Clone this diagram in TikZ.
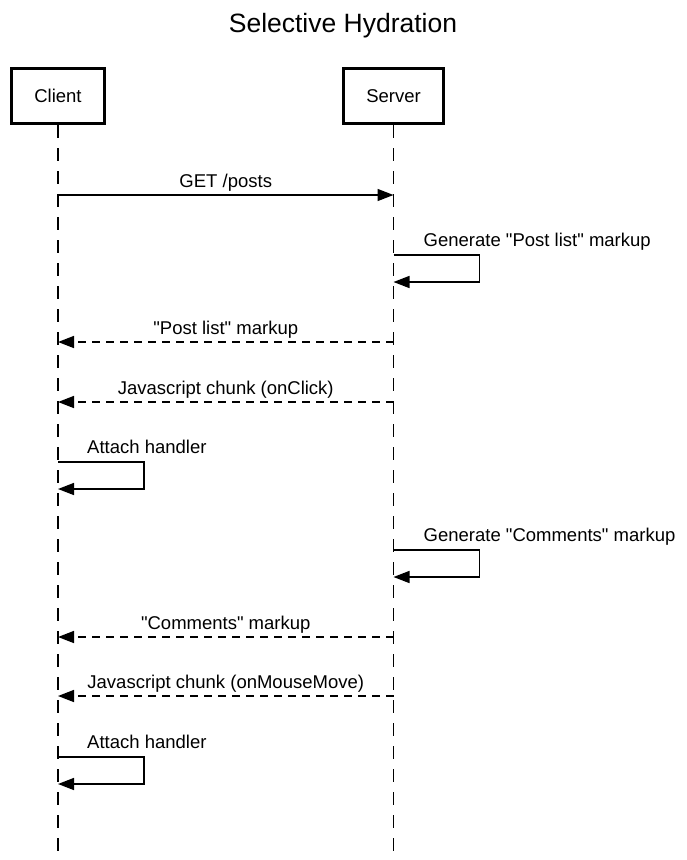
\documentclass[tikz,border=0pt]{standalone}
\usepackage{fontspec}
\setmainfont{Liberation Sans}
\usepackage{tikz}
\usetikzlibrary{arrows.meta,calc}

\begin{document}
\begin{tikzpicture}[x=1pt,y=-1pt,
  actor/.style={draw,line width=3pt,inner xsep=22.5pt,minimum height=55pt,
    font=\fontsize{18.5}{22}\selectfont},
  life/.style={line width=1.5pt,dash pattern=on 13pt off 10pt},
  msg/.style={line width=1.5pt,-{Triangle[length=16pt,width=12pt]}},
  reply/.style={msg,dash pattern=on 8pt off 6pt},
  lbl/.style={font=\fontsize{18.5}{22}\selectfont,anchor=base,inner sep=0pt}]
\useasboundingbox (0,0) rectangle (686,860);

\node[font=\fontsize{26.5}{30}\selectfont,anchor=base] (title) at (343,32) {Selective Hydration};

\node[actor] (client) at (58,96) {Client};
\node[actor] (server) at (393.5,96) {Server};

% lifelines
\coordinate (client end) at (client.south |- 0,860);
\coordinate (server end) at (server.south |- 0,860);
\draw[life] (client.south) -- (client end);
\draw[life] (server.south) -- (server end);

% GET /posts
\coordinate (c1) at (client |- 0,195);
\coordinate (s1) at (server |- 0,195);
\draw[msg] (c1) -- node[lbl,yshift=8pt]{GET /posts} (s1);

% Generate "Post list" markup
\coordinate (s2) at (server |- 0,255);
\coordinate (s2 back) at (server |- 0,282);
\draw[msg] (s2) -- ++(86,0) |- (s2 back);
\node[lbl,anchor=base west] (gen post) at ($(s2)+(30,-9)$) {Generate \textquotedbl Post list\textquotedbl{} markup};

% "Post list" markup
\coordinate (s3) at (server |- 0,342);
\coordinate (c3) at (client |- 0,342);
\draw[reply] (s3) -- node[lbl,yshift=8pt]{\textquotedbl Post list\textquotedbl{} markup} (c3);

% Javascript chunk (onClick)
\coordinate (s4) at (server |- 0,402);
\coordinate (c4) at (client |- 0,402);
\draw[reply] (s4) -- node[lbl,yshift=8pt]{Javascript chunk (onClick)} (c4);

% Attach handler
\coordinate (c5) at (client |- 0,462);
\coordinate (c5 back) at (client |- 0,489);
\draw[msg] (c5) -- ++(86,0) |- (c5 back);
\node[lbl,anchor=base west] (attach click) at ($(c5)+(29,-9)$) {Attach handler};

% Generate "Comments" markup
\coordinate (s6) at (server |- 0,550);
\coordinate (s6 back) at (server |- 0,577);
\draw[msg] (s6) -- ++(86,0) |- (s6 back);
\node[lbl,anchor=base west] (gen comments) at ($(s6)+(30,-9)$) {Generate \textquotedbl Comments\textquotedbl{} markup};

% "Comments" markup
\coordinate (s7) at (server |- 0,637);
\coordinate (c7) at (client |- 0,637);
\draw[reply] (s7) -- node[lbl,yshift=8pt]{\textquotedbl Comments\textquotedbl{} markup} (c7);

% Javascript chunk (onMouseMove)
\coordinate (s8) at (server |- 0,696);
\coordinate (c8) at (client |- 0,696);
\draw[reply] (s8) -- node[lbl,yshift=8pt]{Javascript chunk (onMouseMove)} (c8);

% Attach handler
\coordinate (c9) at (client |- 0,757);
\coordinate (c9 back) at (client |- 0,784);
\draw[msg] (c9) -- ++(86,0) |- (c9 back);
\node[lbl,anchor=base west] (attach move) at ($(c9)+(29,-9)$) {Attach handler};
\end{tikzpicture}
\end{document}
